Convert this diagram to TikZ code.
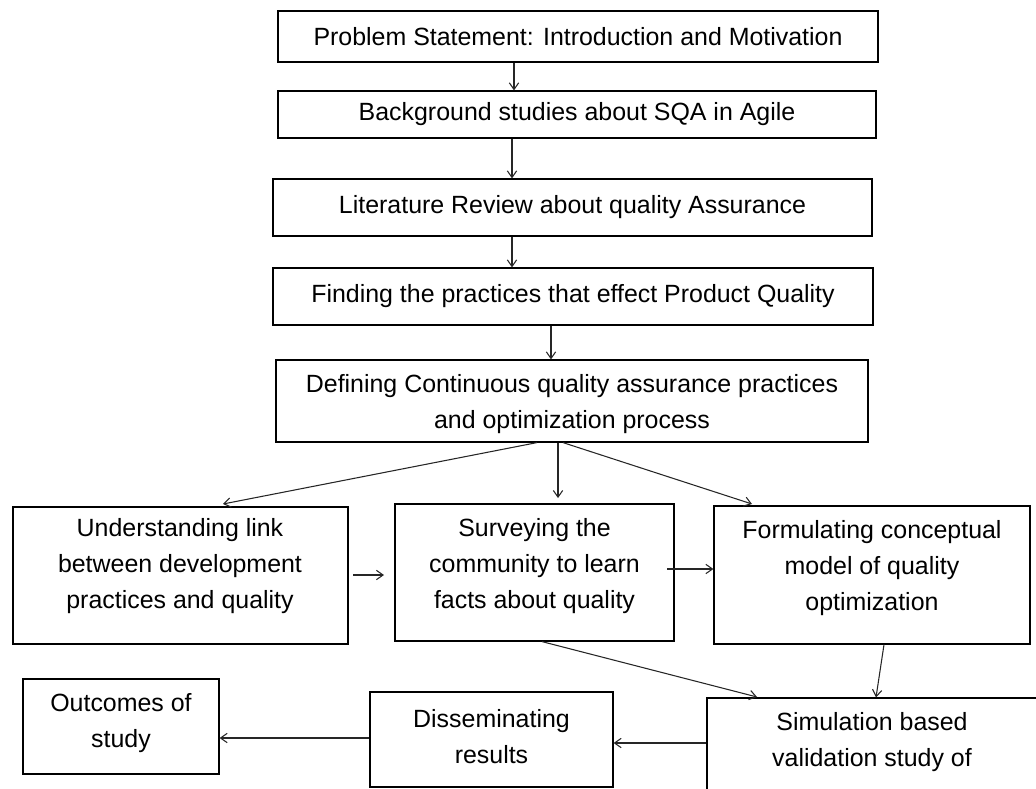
\documentclass[tikz,border=0pt]{standalone}
\usepackage{fontspec}
\setmainfont{Liberation Sans}
\usetikzlibrary{arrows.meta,fit}
\tikzset{
  box/.style={draw=black,line width=0.9pt,inner sep=0pt},
  txt/.style={inner sep=0pt,align=center,font=\fontsize{18.7}{27}\selectfont},
  conn/.style={draw=black!85,line width=0.8pt,-{Straight Barb[length=5pt,width=7pt]}}
}
\begin{document}
\begin{tikzpicture}[x=0.75pt,y=-0.75pt]
\useasboundingbox (0,0) rectangle (1036,789);
\clip (0,0) rectangle (1036,789);
% top chain
\node[box,fit={(278,11)(878,62)}] (b1) {};
\node[txt] (b1t) at (b1.center) {Problem Statement: Introduction and Motivation};
\node[box,fit={(278,91)(876,138)}] (b2) {};
\node[txt] (b2t) at (b2.center) {Background studies about SQA in Agile};
\node[box,fit={(273,179)(872,236)}] (b3) {};
\node[txt] (b3t) at (b3.center) {Literature Review about quality Assurance};
\node[box,fit={(273,268)(873,325)}] (b4) {};
\node[txt] (b4t) at (b4.center) {Finding the practices that effect Product Quality};
\node[box,fit={(276,360)(868,442)}] (b5) {};
\node[txt] (b5t) at (572,404) {Defining Continuous quality assurance practices\\and optimization process};
% middle row
\node[box,fit={(13,507)(348,644)}] (A) {};
\node[txt] (At) at (180,566) {Understanding link\\between development\\practices and quality};
\node[box,fit={(395,504)(674,641)}] (B) {};
\node[txt] (Bt) at (534.5,566) {Surveying the\\community to learn\\facts about quality};
\node[box,fit={(714,506)(1030,644)}] (C) {};
\node[txt] (Ct) at (872,568) {Formulating conceptual\\model of quality\\optimization};
% bottom row
\node[box,fit={(707,698)(1050,820)}] (D) {};
\node[txt] (Dt) at (872,742) {Simulation based\\validation study of};
\node[box,fit={(370,692)(613,787)}] (E) {};
\node[txt] (Et) at (491.5,737) {Disseminating\\results};
\node[box,fit={(23,679)(219,774)}] (O) {};
\node[txt] (Ot) at (121,723) {Outcomes of\\study};
% helper coordinates
\coordinate (x514) at (514,0);
\coordinate (x512) at (512,0);
\coordinate (x551) at (551,0);
\coordinate (s1) at (537,0);
\coordinate (tA) at (223,504);
\coordinate (x558) at (558,0);
\coordinate (s3) at (563,0);
\coordinate (tC) at (752,504);
\coordinate (ab1) at (353,575);
\coordinate (ab2) at (384,575);
\coordinate (bc1) at (667,569);
\coordinate (bd1) at (542,0);
\coordinate (tD) at (757,697);
\coordinate (cd1) at (884,0);
\coordinate (cd2) at (876,0);
\coordinate (de) at (0,743);
\coordinate (eo) at (0,738);
% connectors
\draw[conn] (b1.south -| x514) -- (b2.north -| x514);
\draw[conn] (b2.south -| x512) -- (b3.north -| x512);
\draw[conn] (b3.south -| x512) -- (b4.north -| x512);
\draw[conn] (b4.south -| x551) -- (b5.north -| x551);
\draw[conn] (b5.south -| s1) -- (tA);
\draw[conn,shorten >=4pt] (b5.south -| x558) -- (B.north -| x558);
\draw[conn] (b5.south -| s3) -- (tC);
\draw[conn] (ab1) -- (ab2);
\draw[conn] (bc1) -- (C.west |- bc1);
\draw[conn] (B.south -| bd1) -- (tD);
\draw[conn] (C.south -| cd1) -- (D.north -| cd2);
\draw[conn] (D.west |- de) -- (E.east |- de);
\draw[conn] (E.west |- eo) -- (O.east |- eo);
\end{tikzpicture}
\end{document}
